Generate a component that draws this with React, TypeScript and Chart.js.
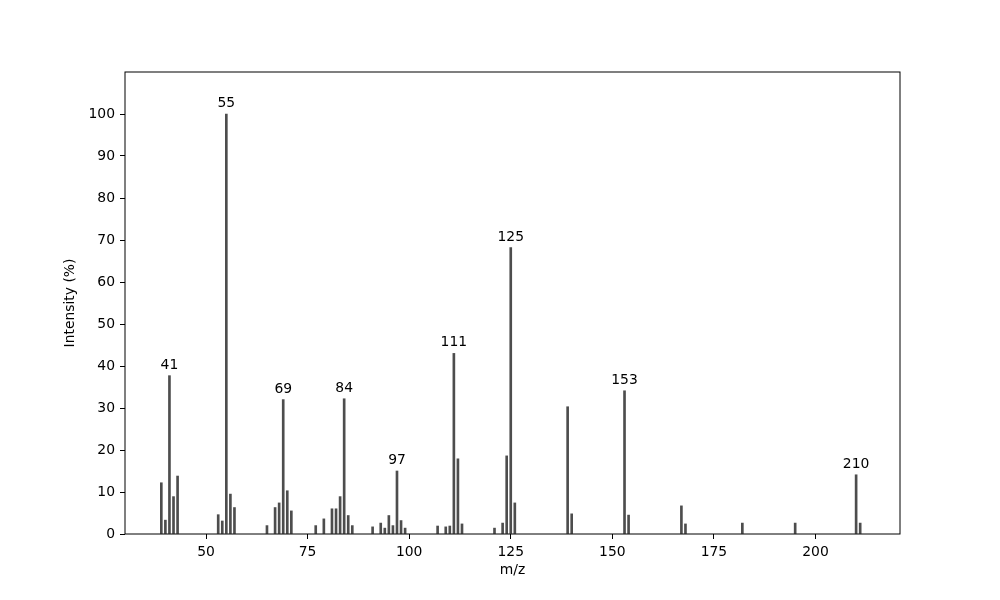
import React, { useEffect, useRef } from 'react';
import Chart from 'chart.js/auto';

// m/z values and relative intensities (%)
const mz = [
  39, 40, 41, 42, 43, 53, 54, 55, 56, 57,
  65, 67, 68, 69, 70, 71, 77, 79, 81, 82, 83, 84, 85, 86,
  91, 93, 94, 95, 96, 97, 98, 99,
  107, 109, 110, 111, 112, 113, 121, 123, 124, 125, 126,
  139, 140, 153, 154, 167, 168, 182, 195, 210, 211,
];
const intensity = [
  12.2, 3.3, 37.7, 8.9, 13.8, 4.6, 3.1, 100, 9.5, 6.3,
  2.0, 6.3, 7.4, 32.0, 10.3, 5.5, 2.0, 3.6, 6.0, 6.0, 8.9, 32.2, 4.4, 2.0,
  1.7, 2.6, 1.4, 4.4, 2.0, 15.0, 3.2, 1.4,
  1.9, 1.7, 1.9, 43.0, 17.9, 2.4, 1.4, 2.6, 18.6, 68.2, 7.4,
  30.3, 4.8, 34.1, 4.5, 6.7, 2.4, 2.6, 2.6, 14.1, 2.6,
];
const peakLabels = [41, 55, 69, 84, 97, 111, 125, 153, 210];
const xTicks = [50, 75, 100, 125, 150, 175, 200];
const yTicks = [0, 10, 20, 30, 40, 50, 60, 70, 80, 90, 100];

const FONT = 'DejaVu Sans';
const SIZE = 13.9;

const frameAndLabels = {
  id: 'frameAndLabels',
  afterDatasetsDraw(chart: any) {
    const { ctx, chartArea: a, scales } = chart;
    const x = scales.x;
    const y = scales.y;
    ctx.save();
    ctx.strokeStyle = '#000';
    ctx.lineWidth = 1;
    ctx.strokeRect(a.left, a.top, a.right - a.left, a.bottom - a.top);
    ctx.font = `${SIZE}px "${FONT}"`;
    ctx.fillStyle = '#000';
    ctx.textAlign = 'center';
    ctx.textBaseline = 'alphabetic';
    peakLabels.forEach((m) => {
      const i = mz.indexOf(m);
      ctx.fillText(String(m), x.getPixelForValue(m), y.getPixelForValue(intensity[i]) - 7);
    });
    ctx.restore();
  },
};

const App: React.FC = () => {
  const chartRef = useRef<HTMLCanvasElement>(null);
  const chartInstanceRef = useRef<Chart | null>(null);

  useEffect(() => {
    if (!chartRef.current) return;
    const ctx = chartRef.current.getContext('2d');
    if (!ctx) return;

    chartInstanceRef.current = new Chart(ctx, {
      type: 'bar',
      data: {
        datasets: [{
          data: mz.map((m, i) => ({ x: m, y: intensity[i] })),
          backgroundColor: '#4d4d4d',
          borderWidth: 0,
          barThickness: 2,
        }],
      },
      options: {
        responsive: false,
        animation: false,
        layout: { padding: { left: 0, top: 72, right: 100, bottom: 0 } },
        plugins: { legend: { display: false }, tooltip: { enabled: false } },
        scales: {
          x: {
            type: 'linear',
            min: 30.06,
            max: 220.8,
            offset: false,
            afterBuildTicks: (scale: any) => { scale.ticks = xTicks.map((v) => ({ value: v })); },
            afterFit: (scale: any) => { scale.height = 66; },
            grid: { display: true, drawOnChartArea: false, drawTicks: true, tickLength: 5, color: '#000', offset: false },
            border: { display: false },
            ticks: { color: '#000', padding: 5, maxRotation: 0, font: { family: FONT, size: SIZE } },
            title: { display: true, text: 'm/z', color: '#000', padding: { top: 0, bottom: 21.7 }, font: { family: FONT, size: SIZE } },
          },
          y: {
            type: 'linear',
            min: 0,
            max: 110,
            afterBuildTicks: (scale: any) => { scale.ticks = yTicks.map((v) => ({ value: v })); },
            afterFit: (scale: any) => { scale.width = 125; },
            grid: { display: true, drawOnChartArea: false, drawTicks: true, tickLength: 5, color: '#000' },
            border: { display: false },
            ticks: { color: '#000', padding: 5, font: { family: FONT, size: SIZE } },
            title: { display: true, text: 'Intensity (%)', color: '#000', padding: { top: 62.5, bottom: 0 }, font: { family: FONT, size: SIZE } },
          },
        },
      },
      plugins: [frameAndLabels],
    } as any);

    return () => {
      if (chartInstanceRef.current) {
        chartInstanceRef.current.destroy();
        chartInstanceRef.current = null;
      }
    };
  }, []);

  return (
    <div style={{ position: 'fixed', left: 0, top: 0, width: 1000, height: 600, background: '#fff' }}>
      <canvas ref={chartRef} width={1000} height={600} />
    </div>
  );
};

export default App;
